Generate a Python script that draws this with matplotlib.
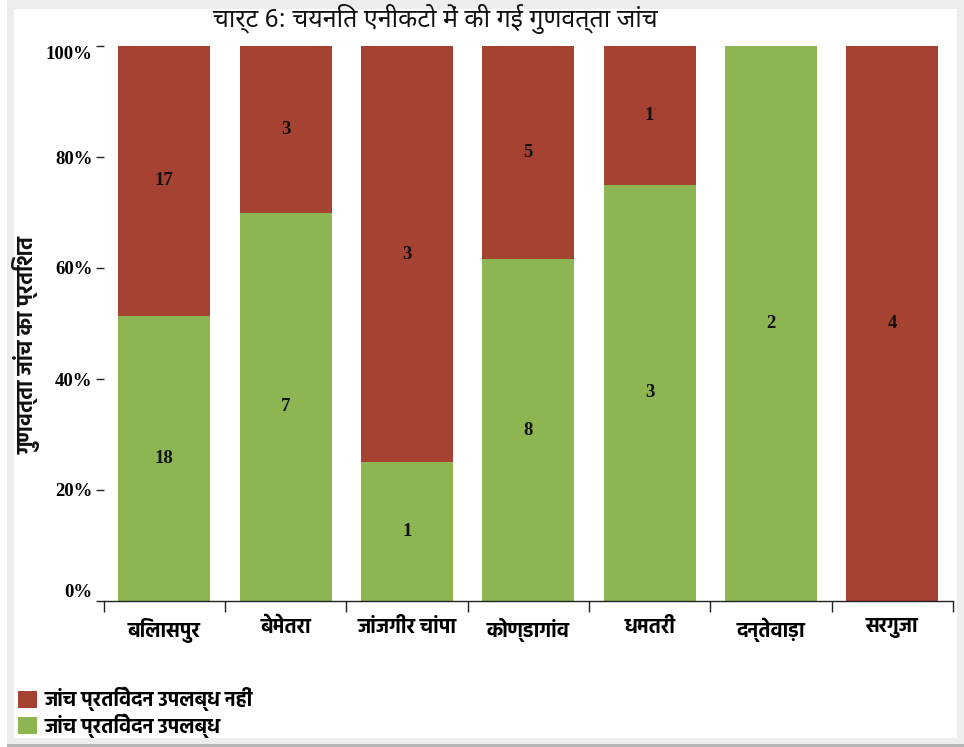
import matplotlib
matplotlib.use("Agg")
import matplotlib.pyplot as plt
from matplotlib import font_manager as fm
from matplotlib.patches import Rectangle
import numpy as np

# ---- data ----
categories = ["बिलासपुर", "बेमेतरा", "जांजगीर चांपा", "कोण्डागांव", "धमतरी", "दन्तेवाड़ा", "सरगुजा"]
available = [18, 7, 1, 8, 3, 2, 0]        # जांच प्रतिवेदन उपलब्ध
not_available = [17, 3, 3, 5, 1, 0, 4]    # जांच प्रतिवेदन उपलब्ध नहीं
series_labels = ["जांच प्रतिवेदन उपलब्ध नहीं", "जांच प्रतिवेदन उपलब्ध"]
ytick_vals = [0, 20, 40, 60, 80, 100]
ytick_labels = ["0%", "20%", "40%", "60%", "80%", "100%"]
title = "चार्ट 6: चयनित एनीकटो में की गई गुणवत्ता जांच"
ylabel = "गुणवत्ता जांच का प्रतिशत"

# ---- fonts ----
ttf = fm.fontManager.ttflist
names = {f.name for f in ttf}
prefs = ["Noto Sans Devanagari", "Hind", "Mukta", "Poppins", "Tiro Devanagari Hindi",
         "Lohit Devanagari", "FreeSans"]
def has_bold(n):
    return any(f.name == n and (f.weight in ("bold", "semibold", "demibold") or
               (isinstance(f.weight, int) and f.weight >= 600)) for f in ttf)
deva = next((n for n in prefs if n in names), "FreeSans")
deva_bold = next((n for n in prefs if n in names and has_bold(n)), deva)
DEVA = [deva, "DejaVu Sans"]
DEVA_B = [deva_bold, "DejaVu Sans"]
SERIF = ["Liberation Serif", "DejaVu Serif"]

RED = "#A64232"
GREEN = "#8DB652"

W, H = 964, 747
fig = plt.figure(figsize=(W / 100, H / 100), dpi=100, facecolor="white")

def px_rect(x0, y0, x1, y1, **kw):
    r = Rectangle((x0 / W, 1 - y1 / H), (x1 - x0) / W, (y1 - y0) / H,
                  transform=fig.transFigure, **kw)
    fig.add_artist(r)
    return r

# outer frame like the screenshot border
px_rect(7, 0, 964, 747, facecolor="#EDEDED", edgecolor="none", zorder=-10)
px_rect(7, 744, 964, 747, facecolor="#B5B5B5", edgecolor="none", zorder=-9)
px_rect(14, 9, 957, 738, facecolor="white", edgecolor="none", zorder=-8)

ax = fig.add_axes([103.6 / W, 1 - 601 / H, (953 - 103.6) / W, (601 - 46) / H])
ax.set_facecolor("none")

avail = np.array(available, dtype=float)
notav = np.array(not_available, dtype=float)
tot = avail + notav
g_pct = avail / tot * 100
r_pct = notav / tot * 100
x = np.arange(len(categories))
bw = 0.76

ax.bar(x, g_pct, width=bw, color=GREEN, edgecolor="none", label=series_labels[1])
ax.bar(x, r_pct, width=bw, bottom=g_pct, color=RED, edgecolor="none", label=series_labels[0])

for i in range(len(x)):
    if avail[i] > 0:
        ax.text(x[i], g_pct[i] / 2, f"{available[i]}", ha="center", va="center",
                family=SERIF, fontweight="bold", fontsize=13.5, color="#111111")
    if notav[i] > 0:
        ax.text(x[i], g_pct[i] + r_pct[i] / 2, f"{not_available[i]}", ha="center", va="center",
                family=SERIF, fontweight="bold", fontsize=13.5, color="#111111")

ax.set_xlim(-0.5, len(categories) - 0.5)
ax.set_ylim(0, 100)

for s in ["top", "right", "left"]:
    ax.spines[s].set_visible(False)
ax.spines["bottom"].set_color("#222222")
ax.spines["bottom"].set_linewidth(1.0)

ax.set_xticks(x)
ax.set_xticklabels(categories, family=DEVA_B, fontweight="bold", fontsize=14.5)
ax.tick_params(axis="x", which="major", length=0, pad=12)
ax.set_xticks(np.arange(-0.5, len(categories)), minor=True)
ax.tick_params(axis="x", which="minor", length=8, width=1.0, color="#222222", direction="out")

ax.set_yticks(ytick_vals)
ax.set_yticklabels(ytick_labels, family=SERIF, fontweight="bold", fontsize=13.5)
ax.tick_params(axis="y", length=6, width=1.0, color="#222222", pad=2)
ylabs = ax.get_yticklabels()
ylabs[0].set_va("bottom")
ylabs[-1].set_va("top")

fig.text(435 / W, 1 - 19 / H, title, ha="center", va="center",
         family=DEVA, fontsize=18, color="#111111")
fig.text(27 / W, 1 - 345 / H, ylabel, ha="center", va="center", rotation=90,
         family=DEVA_B, fontweight="bold", fontsize=15.5, color="#111111")

# legend
handles, labels = ax.get_legend_handles_labels()
leg = fig.legend(handles[::-1], labels[::-1], loc="upper left",
                 bbox_to_anchor=(10 / W, 1 - 679 / H), frameon=False,
                 prop=fm.FontProperties(family=DEVA_B, weight="bold", size=14.5),
                 handlelength=0.95, handleheight=0.95, handletextpad=0.35,
                 labelspacing=0.1, borderaxespad=0)

fig.savefig("out.png", dpi=100, facecolor=fig.get_facecolor())
